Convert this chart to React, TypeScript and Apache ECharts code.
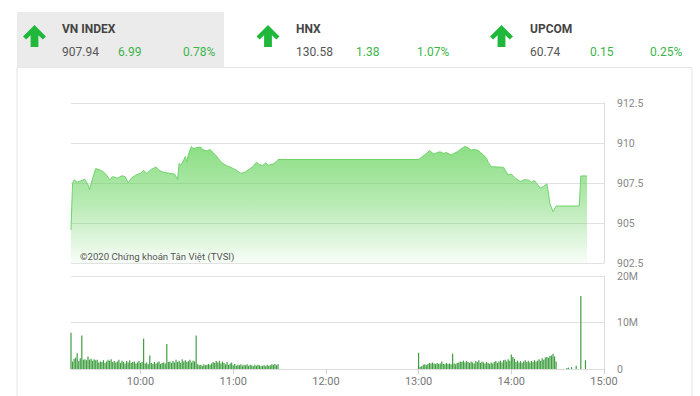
import React, { useEffect, useRef } from 'react';
import * as echarts from 'echarts';

// ---- Header data ----
const indexNames = ['VN INDEX', 'HNX', 'UPCOM'];
const indexValues = ['907.94', '130.58', '60.74'];
const indexChanges = ['6.99', '1.38', '0.15'];
const indexPercents = ['0.78%', '1.07%', '0.25%'];

// ---- Price line (time HH:MM, index value) ----
const priceTimes = [
  '09:15', '09:16', '09:17', '09:19', '09:21', '09:24', '09:26', '09:27', '09:29', '09:31',
  '09:34', '09:36', '09:38', '09:40', '09:42', '09:45', '09:48', '09:50', '09:52', '09:54',
  '09:57', '10:00', '10:02', '10:04', '10:07', '10:10', '10:12', '10:14', '10:16', '10:19',
  '10:22', '10:24', '10:25', '10:26', '10:28', '10:29', '10:30', '10:31', '10:33', '10:34',
  '10:36', '10:39', '10:40', '10:43', '10:45', '10:47', '10:49', '10:51', '10:53', '10:56',
  '10:58', '11:00', '11:02', '11:05', '11:08', '11:11', '11:13', '11:15', '11:17', '11:19',
  '11:21', '11:23', '11:24', '11:26', '11:28', '11:29', '13:00', '13:03', '13:05', '13:07',
  '13:10', '13:12', '13:14', '13:16', '13:18', '13:21', '13:25', '13:27', '13:30', '13:32',
  '13:34', '13:36', '13:39', '13:40', '13:42', '13:44', '13:45', '13:47', '13:51', '13:55',
  '13:56', '13:58', '14:00', '14:02', '14:06', '14:08', '14:11', '14:13', '14:15', '14:17',
  '14:19', '14:21', '14:23', '14:24', '14:25', '14:27', '14:29', '14:44', '14:45', '14:49',
];
const priceValues = [
  904.56, 907.48, 907.7, 907.55, 907.62, 907.73, 907.4, 907.1, 907.8, 908.4,
  908.3, 908.2, 908.0, 907.7, 907.9, 907.8, 907.95, 907.9, 907.5, 907.8,
  908.0, 908.1, 908.3, 908.1, 908.35, 908.5, 908.3, 908.2, 908.15, 908.1,
  908.06, 907.73, 908.73, 908.6, 908.94, 909.15, 908.8, 909.3, 909.78, 909.65,
  909.7, 909.75, 909.6, 909.5, 909.6, 909.4, 909.2, 908.94, 908.75, 908.56,
  908.5, 908.4, 908.3, 908.1, 908.2, 908.4, 908.55, 908.8, 908.65, 908.6,
  908.75, 908.6, 908.65, 908.7, 908.85, 908.97, 908.97, 909.19, 909.35, 909.52,
  909.3, 909.4, 909.45, 909.35, 909.4, 909.25, 909.45, 909.6, 909.78, 909.7,
  909.56, 909.6, 909.52, 909.4, 909.25, 909.04, 908.8, 908.52, 908.5, 908.48,
  908.3, 908.0, 908.06, 907.85, 907.58, 907.7, 907.69, 907.55, 907.65, 907.4,
  907.17, 907.3, 907.44, 906.9, 906.2, 905.7, 906.06, 906.06, 907.94, 907.94,
];

// ---- Volume (millions), one bar per minute ----
const morningStart = '09:15';
const morningVolume = [
  7.8, 1.6, 2.2, 2.4, 3.4, 1.7, 2.3, 7.2, 2.0, 2.1, 1.9, 2.7, 2.0, 2.2, 1.8,
  2.1, 1.9, 2.0, 1.4, 1.6, 1.5, 1.9, 1.3, 1.6, 2.0, 1.8, 2.1, 1.5, 1.7, 1.4,
  1.6, 2.0, 1.3, 1.8, 1.5, 1.2, 1.7, 1.4, 1.9, 1.3, 1.5, 1.6, 1.2, 1.4, 1.7,
  1.3, 1.5, 6.5, 1.2, 1.4, 1.0, 2.9, 1.3, 1.1, 1.5, 1.2, 1.4, 1.6, 1.1, 1.3,
  1.4, 1.2, 5.4, 1.5, 1.6, 1.3, 1.7, 1.4, 2.0, 1.5, 1.8, 1.3, 2.1, 1.6, 1.9,
  1.5, 1.7, 2.0, 1.4, 1.8, 1.6, 7.2, 1.0, 0.8, 0.9, 0.7, 1.0, 0.8, 0.9, 1.1,
  0.9, 1.2, 1.5, 1.3, 1.7, 1.4, 1.8, 1.2, 1.6, 1.3, 1.0, 1.5, 0.9, 1.2, 1.4,
  0.8, 1.1, 0.7, 0.9, 0.8, 1.0, 0.7, 0.9, 0.8, 1.0, 0.7, 0.9, 0.8, 0.6, 0.9,
  0.7, 0.9, 0.8, 0.6, 0.7, 0.8, 0.6, 0.9, 0.7, 0.8, 1.0, 0.9, 1.1, 0.8, 1.0,
];
const afternoonStart = '13:00';
const afternoonVolume = [
  3.5, 0.5, 0.6, 0.9, 1.0, 0.8, 1.1, 1.3, 1.2, 1.4, 1.2, 1.0, 1.3, 1.1, 1.2,
  1.6, 1.1, 1.0, 1.3, 1.1, 1.2, 1.0, 3.3, 1.2, 1.0, 1.3, 1.4, 1.6, 1.5, 1.8,
  1.4, 1.7, 1.5, 1.3, 1.6, 1.4, 1.2, 1.7, 1.5, 1.9, 1.3, 1.6, 1.4, 1.2, 1.5,
  1.3, 1.1, 1.4, 1.2, 1.5, 1.7, 1.3, 1.6, 1.8, 1.4, 1.9, 2.0, 1.6, 2.1, 1.8,
  3.1, 2.6, 2.2, 1.5, 1.8, 1.4, 1.7, 1.3, 1.6, 1.9, 1.5, 1.8, 1.4, 1.7, 1.5,
  1.9, 1.6, 1.8, 2.1, 1.7, 2.3, 2.0, 2.5, 2.6, 2.4, 2.8, 2.9, 3.3, 2.7, 1.6,
];
const lateTimes = ['14:36', '14:37', '14:39', '14:42', '14:45', '14:48'];
const lateVolume = [0.2, 0.3, 0.4, 0.7, 15.7, 1.9];

// ---- Axis ticks ----
const xTickLabels = ['10:00', '11:00', '12:00', '13:00', '14:00', '15:00'];
const xStart = '09:15';
const xEnd = '15:00';
const priceTicks = [902.5, 905, 907.5, 910, 912.5];
const volumeTicks = [0, 10, 20];

const toMin = (s: string) => {
  const [h, m] = s.split(':').map(Number);
  return h * 60 + m;
};
const fmtMin = (v: number) => {
  const h = Math.floor(v / 60);
  const m = Math.round(v % 60);
  return `${h < 10 ? '0' : ''}${h}:${m < 10 ? '0' : ''}${m}`;
};

const GREEN_TEXT = '#3bb54a';
const GREEN_ARROW = '#1fb83a';

function arrow(cx: number, top: number) {
  const pts = [
    [0, 0], [11.5, 11.5], [8.3, 14.6], [3.9, 10.2], [3.9, 22], [-3.9, 22],
    [-3.9, 10.2], [-8.3, 14.6], [-11.5, 11.5],
  ].map(([x, y]) => [cx + x, top + y]);
  return { type: 'polygon', shape: { points: pts }, style: { fill: GREEN_ARROW } };
}

function txt(x: number, y: number, text: string, color: string, font: string, z = 10) {
  return {
    type: 'text',
    x,
    y,
    z,
    style: { text, fill: color, font, textVerticalAlign: 'middle', verticalAlign: 'middle' },
  };
}

export default function App() {
  const ref = useRef<HTMLDivElement>(null);

  useEffect(() => {
    if (!ref.current) return;
    const chart = echarts.init(ref.current, null, { renderer: 'svg' });

    const priceData = priceTimes.map((t, i) => [toMin(t), priceValues[i]]);
    const m0 = toMin(morningStart);
    const a0 = toMin(afternoonStart);
    const volData = [
      ...morningVolume.map((v, i) => [m0 + i, v]),
      ...afternoonVolume.map((v, i) => [a0 + i, v]),
      ...lateTimes.map((t, i) => [toMin(t), lateVolume[i]]),
    ];
    const hourVals = xTickLabels.map(toMin);

    const headerX = [62, 296, 530];
    const changeX = [118, 356, 590];
    const pctX = [183, 417, 650];
    const arrowCx = [34.5, 268, 501.5];

    const graphic: any[] = [
      { type: 'rect', shape: { x: 17, y: 67.5, width: 675, height: 340 }, style: { fill: '#fff', stroke: '#e6e6e6', lineWidth: 1 }, z: -10 },
      { type: 'rect', shape: { x: 17, y: 12, width: 207, height: 55.5 }, style: { fill: '#ebebeb' }, z: -9 },
    ];
    indexNames.forEach((name, i) => {
      graphic.push(arrow(arrowCx[i], 25));
      graphic.push(txt(headerX[i], 29, name, '#444', 'bold 12px Roboto'));
      graphic.push(txt(headerX[i], 52, indexValues[i], '#555', '12px Roboto'));
      graphic.push(txt(changeX[i], 52, indexChanges[i], GREEN_TEXT, '12px Roboto'));
      graphic.push(txt(pctX[i], 52, indexPercents[i], GREEN_TEXT, '12px Roboto'));
    });
    graphic.push(txt(80, 256, '©2020 Chứng khoán Tân Việt (TVSI)', '#555', '9.6px Roboto', 100));

    chart.setOption({
      animation: false,
      graphic,
      grid: [
        { left: 71, right: 96, top: 103, height: 160 },
        { left: 71, right: 96, top: 276, height: 93 },
      ],
      xAxis: [
        {
          type: 'value', gridIndex: 0, min: toMin(xStart), max: toMin(xEnd),
          show: false, splitLine: { show: false },
        },
        {
          type: 'value', gridIndex: 1, min: toMin(xStart), max: toMin(xEnd),
          axisLine: { show: true, lineStyle: { color: '#dcdcdc' } },
          axisTick: { show: true, length: 5, lineStyle: { color: '#cfcfcf' }, customValues: hourVals },
          axisLabel: {
            customValues: hourVals, formatter: (v: number) => fmtMin(v),
            color: '#777', fontSize: 11, fontFamily: 'Roboto', margin: 7,
          },
          splitLine: { show: false },
        },
      ],
      yAxis: [
        {
          type: 'value', gridIndex: 0, position: 'right',
          min: priceTicks[0], max: priceTicks[priceTicks.length - 1], interval: 2.5,
          axisLine: { show: true, lineStyle: { color: '#dcdcdc' } },
          axisTick: { show: false },
          axisLabel: { color: '#888', fontSize: 10.5, fontFamily: 'Roboto', margin: 13 },
          splitLine: { show: true, lineStyle: { color: '#e2e2e2' } },
        },
        {
          type: 'value', gridIndex: 1, position: 'right',
          min: volumeTicks[0], max: volumeTicks[volumeTicks.length - 1], interval: 10,
          axisLine: { show: true, lineStyle: { color: '#dcdcdc' } },
          axisTick: { show: false },
          axisLabel: {
            color: '#888', fontSize: 10.5, fontFamily: 'Roboto', margin: 13,
            formatter: (v: number) => (v === 0 ? '0' : `${v}M`),
          },
          splitLine: { show: true, lineStyle: { color: '#e2e2e2' } },
        },
      ],
      series: [
        {
          type: 'line', xAxisIndex: 0, yAxisIndex: 0, data: priceData,
          showSymbol: false, symbol: 'none',
          lineStyle: { color: '#6fd36a', width: 1 },
          areaStyle: {
            origin: 'start',
            opacity: 1,
            color: new echarts.graphic.LinearGradient(0, 0, 0, 1, [
              { offset: 0, color: 'rgba(80,205,70,0.66)' },
              { offset: 0.5, color: 'rgba(80,205,70,0.4)' },
              { offset: 1, color: 'rgba(80,205,70,0.04)' },
            ]),
          },
        },
        {
          type: 'bar', xAxisIndex: 1, yAxisIndex: 1, data: volData,
          barWidth: 1.2, itemStyle: { color: '#3f9f40' },
        },
      ],
    });

    return () => chart.dispose();
  }, []);

  return (
    <div
      ref={ref}
      style={{ position: 'fixed', left: 0, top: 0, width: 700, height: 396, background: '#fff' }}
    />
  );
}
